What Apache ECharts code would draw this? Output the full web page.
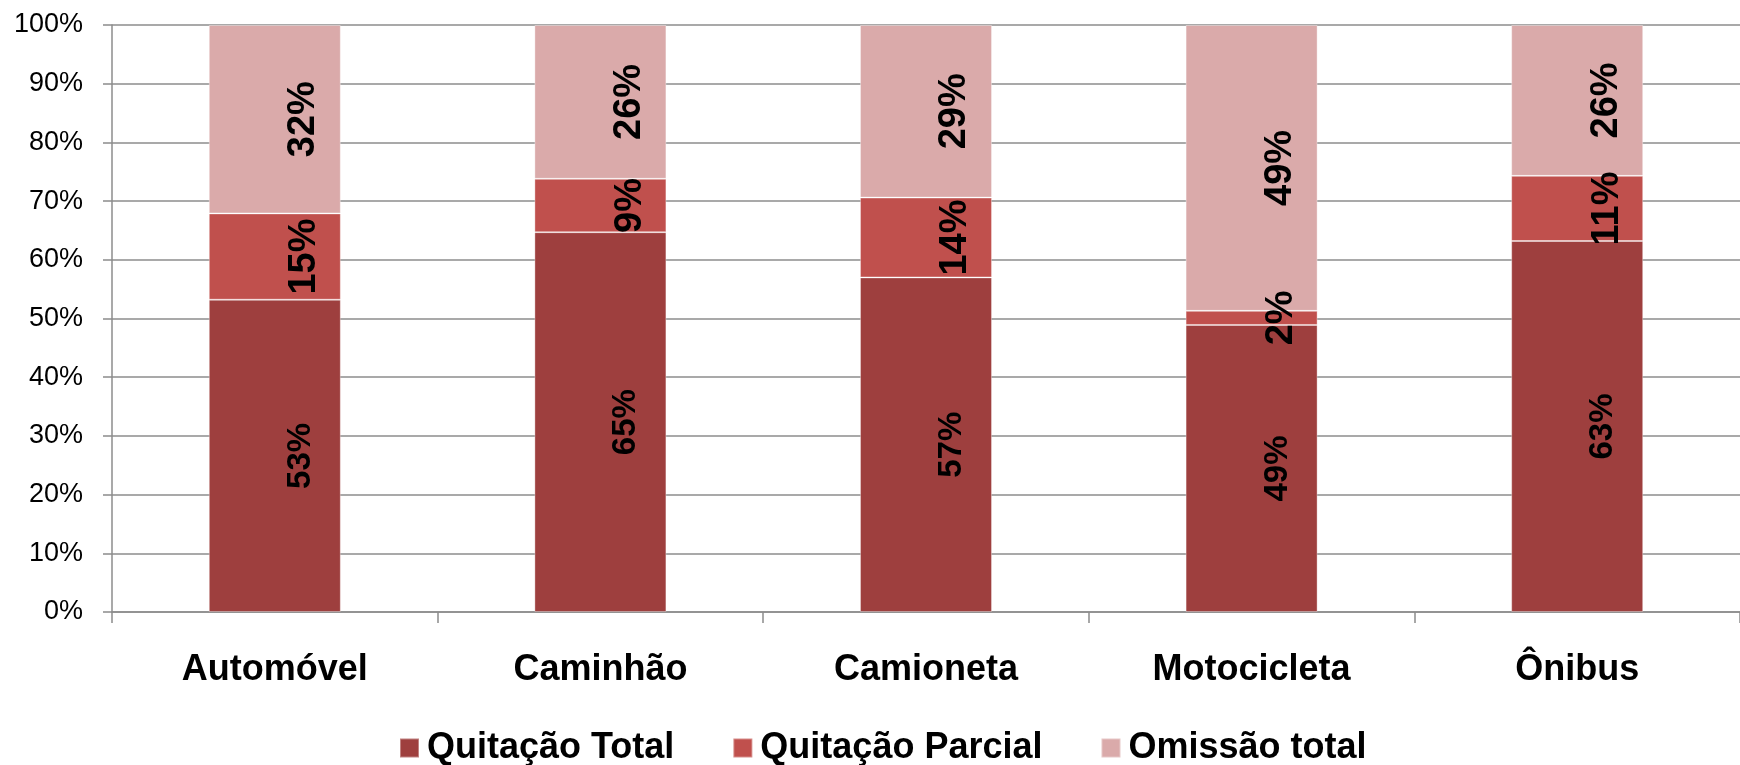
<!DOCTYPE html>
<html>
<head>
<meta charset="utf-8">
<script src="https://cdn.jsdelivr.net/npm/echarts@6/dist/echarts.min.js"></script>
<style>
html,body{margin:0;padding:0;background:#fff;}
#chart{width:1740px;height:765px;}
</style>
</head>
<body>
<div id="chart"></div>
<script>
const categories = ['Automóvel', 'Caminhão', 'Camioneta', 'Motocicleta', 'Ônibus'];
const quitacaoTotal = [53.2, 64.7, 57.0, 48.9, 63.2];
const quitacaoParcial = [14.7, 9.1, 13.6, 2.4, 11.1];
const omissaoTotal = [32.1, 26.2, 29.4, 48.7, 25.7];
const seriesNames = ['Quitação Total', 'Quitação Parcial', 'Omissão total'];
const seriesColors = ['#9E3F3E', '#C0504D', '#DAAAAA'];
const yTicks = [0, 10, 20, 30, 40, 50, 60, 70, 80, 90, 100];

const FONT = 'Liberation Sans, Arial, sans-serif';
const chart = echarts.init(document.getElementById('chart'), null, {renderer: 'canvas'});

function makeSeries(name, data, color, fontSize, dx) {
  return {
    name: name,
    type: 'bar',
    stack: 'total',
    data: data,
    barWidth: 132,
    itemStyle: {color: color, borderColor: 'rgba(255,255,255,0.35)', borderWidth: 1},
    label: {
      show: true,
      position: 'inside',
      rotate: 90,
      offset: [0, dx],
      formatter: p => Math.round(p.value) + '%',
      color: '#000',
      fontFamily: FONT,
      fontWeight: 'bold',
      fontSize: fontSize
    },
    emphasis: {disabled: true}
  };
}

chart.setOption({
  animation: false,
  backgroundColor: '#fff',
  grid: {left: 112, top: 25, width: 1640, bottom: 153, containLabel: false},
  legend: {
    data: seriesNames,
    left: 394,
    top: 725,
    icon: 'rect',
    itemWidth: 19,
    itemHeight: 19,
    itemGap: 58,
    textStyle: {fontFamily: FONT, fontWeight: 'bold', fontSize: 36, color: '#000', padding: [0, 0, 0, 3]}
  },
  xAxis: {
    type: 'category',
    data: categories,
    axisLine: {lineStyle: {color: '#8c8c8c', width: 1.5}},
    axisTick: {show: true, length: 11, lineStyle: {color: '#8c8c8c', width: 1.5}},
    axisLabel: {fontFamily: FONT, fontWeight: 'bold', fontSize: 36, color: '#000', margin: 40}
  },
  yAxis: {
    type: 'value',
    min: 0,
    max: 100,
    interval: 10,
    axisLine: {show: true, lineStyle: {color: '#8c8c8c', width: 1.5}},
    axisTick: {show: true, length: 9, lineStyle: {color: '#8c8c8c', width: 1.5}},
    splitLine: {show: true, lineStyle: {color: '#8c8c8c', width: 1.5}},
    axisLabel: {
      fontFamily: FONT, fontSize: 27, color: '#000', margin: 29,
      formatter: v => (yTicks.indexOf(v) >= 0 ? v + '%' : '')
    }
  },
  series: [
    makeSeries(seriesNames[0], quitacaoTotal, seriesColors[0], 33, 26),
    makeSeries(seriesNames[1], quitacaoParcial, seriesColors[1], 38, 30),
    makeSeries(seriesNames[2], omissaoTotal, seriesColors[2], 38, 29)
  ]
});
</script>
</body>
</html>
